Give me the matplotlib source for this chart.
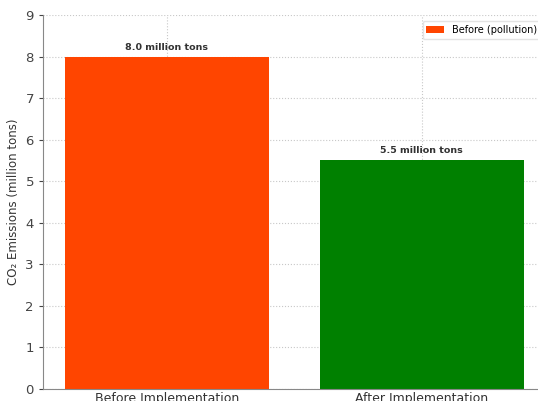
import matplotlib.pyplot as plt

# data
categories = ['Before Implementation', 'After Implementation']
emissions = [8.0, 5.5]
bar_colors = ['#FF4500', '#008000']
bar_labels = ['8.0 million tons', '5.5 million tons']

fig = plt.figure(figsize=(5.38, 4.01), dpi=100)
ax = fig.add_axes([0.0799, 0.0299, 0.936, 0.9327])

bars = ax.bar(categories, emissions, color=bar_colors, width=0.8, zorder=2)
bars[0].set_label('Before (pollution)')

for b, txt in zip(bars, bar_labels):
    ax.text(b.get_x() + b.get_width() / 2, b.get_height() + 0.12, txt,
            ha='center', va='bottom', fontsize=6.8, fontweight='bold', color='#333333')

ax.set_xlim(-0.486, 1.49)
ax.set_ylim(0, 9)
ax.set_yticks(range(0, 10))
ax.set_ylabel('CO₂ Emissions (million tons)', fontsize=8.5, color='#333333')
ax.tick_params(axis='y', labelsize=9.5, colors='#444444', length=3)
ax.tick_params(axis='x', labelsize=9, colors='#333333', length=0, pad=2)

ax.grid(True, linestyle=':', color='#c8c8c8', linewidth=0.8, zorder=0)
ax.set_axisbelow(True)
for s in ['top', 'right']:
    ax.spines[s].set_visible(False)
for s in ['left', 'bottom']:
    ax.spines[s].set_color('#888888')

ax.legend(loc='upper right', fontsize=7, frameon=True, edgecolor='#dddddd',
          handlelength=1.8, borderaxespad=0.6)

fig.savefig('out.png', dpi=100)
